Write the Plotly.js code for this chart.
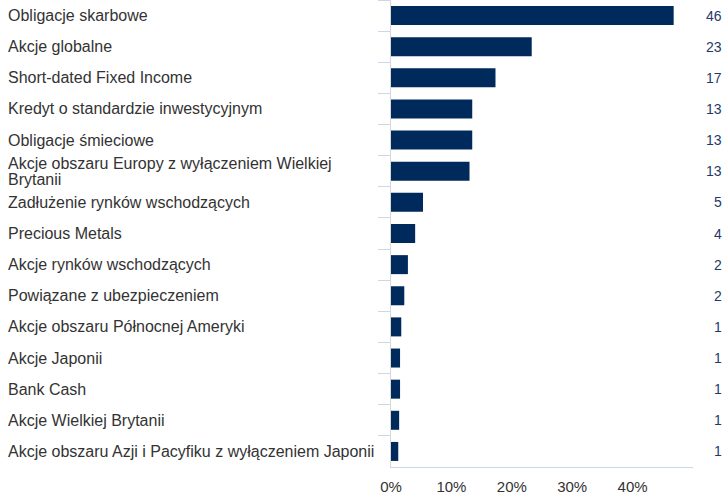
<!DOCTYPE html>
<html>
<head>
<meta charset="utf-8">
<script src="https://cdn.plot.ly/plotly-3.0.1.min.js"></script>
<style>html,body{margin:0;padding:0;background:#fff;}#chart{width:728px;height:497px;}</style>
</head>
<body>
<div id="chart"></div>
<script>
const categories = [
  "Obligacje skarbowe",
  "Akcje globalne",
  "Short-dated Fixed Income",
  "Kredyt o standardzie inwestycyjnym",
  "Obligacje śmieciowe",
  "Akcje obszaru Europy z wyłączeniem Wielkiej<br>Brytanii",
  "Zadłużenie rynków wschodzących",
  "Precious Metals",
  "Akcje rynków wschodzących",
  "Powiązane z ubezpieczeniem",
  "Akcje obszaru Północnej Ameryki",
  "Akcje Japonii",
  "Bank Cash",
  "Akcje Wielkiej Brytanii",
  "Akcje obszaru Azji i Pacyfiku z wyłączeniem Japonii"
];
const values = [46.8, 23.3, 17.3, 13.45, 13.45, 13.0, 5.3, 4.0, 2.8, 2.2, 1.7, 1.5, 1.5, 1.35, 1.2];
const valueLabels = ["46", "23", "17", "13", "13", "13", "5", "4", "2", "2", "1", "1", "1", "1", "1"];
const xTicks = [0, 10, 20, 30, 40];
const xTickLabels = ["0%", "10%", "20%", "30%", "40%"];

const W = 728, H = 497;
const mL = 391, mR = 35, mT = 0, mB = 30;
const plotW = W - mL - mR;
const FONT = 'Liberation Sans, Arial, sans-serif';

const annotations = [];
categories.forEach((c, i) => {
  const lines = c.split('<br>');
  const lineH = 16;
  lines.forEach((ln, j) => {
    annotations.push({
      xref: 'paper', yref: 'y', x: (7 - mL) / plotW, y: c,
      text: ln, showarrow: false, xanchor: 'left', yanchor: 'middle', align: 'left',
      yshift: ((lines.length - 1) / 2 - j) * lineH, borderpad: 0,
      font: {family: FONT, size: 16, color: '#333333'}
    });
  });
  annotations.push({
    xref: 'paper', yref: 'y', x: (724 - mL) / plotW, y: c,
    text: valueLabels[i], showarrow: false, xanchor: 'right', yanchor: 'middle',
    font: {family: FONT, size: 14, color: '#1f3a68'}
  });
});

const trace = {
  type: 'bar', orientation: 'h',
  x: values, y: categories,
  marker: {color: '#002a5c'},
  hoverinfo: 'none'
};

const layout = {
  width: W, height: H,
  margin: {l: mL, r: mR, t: mT, b: mB, pad: 0},
  paper_bgcolor: '#ffffff', plot_bgcolor: '#ffffff',
  showlegend: false,
  bargap: 0.39,
  xaxis: {
    range: [0, 50], showgrid: false, zeroline: false,
    showline: true, linecolor: '#ccd6eb', linewidth: 1,
    tickvals: xTicks, ticktext: xTickLabels, ticks: '',
    ticklabelstandoff: 6,
    tickfont: {family: FONT, size: 15, color: '#333333'},
    fixedrange: true
  },
  yaxis: {
    type: 'category', categoryorder: 'array', categoryarray: categories,
    range: [categories.length - 0.5, -0.5],
    showticklabels: false, showgrid: false, zeroline: false,
    showline: true, linecolor: '#d8d8d8', linewidth: 1,
    ticks: 'outside', tickson: 'boundaries', ticklen: 12, tickcolor: '#ccd6eb', tickwidth: 1,
    fixedrange: true
  },
  annotations: annotations
};

Plotly.newPlot('chart', [trace], layout, {displayModeBar: false, staticPlot: true});
</script>
</body>
</html>
